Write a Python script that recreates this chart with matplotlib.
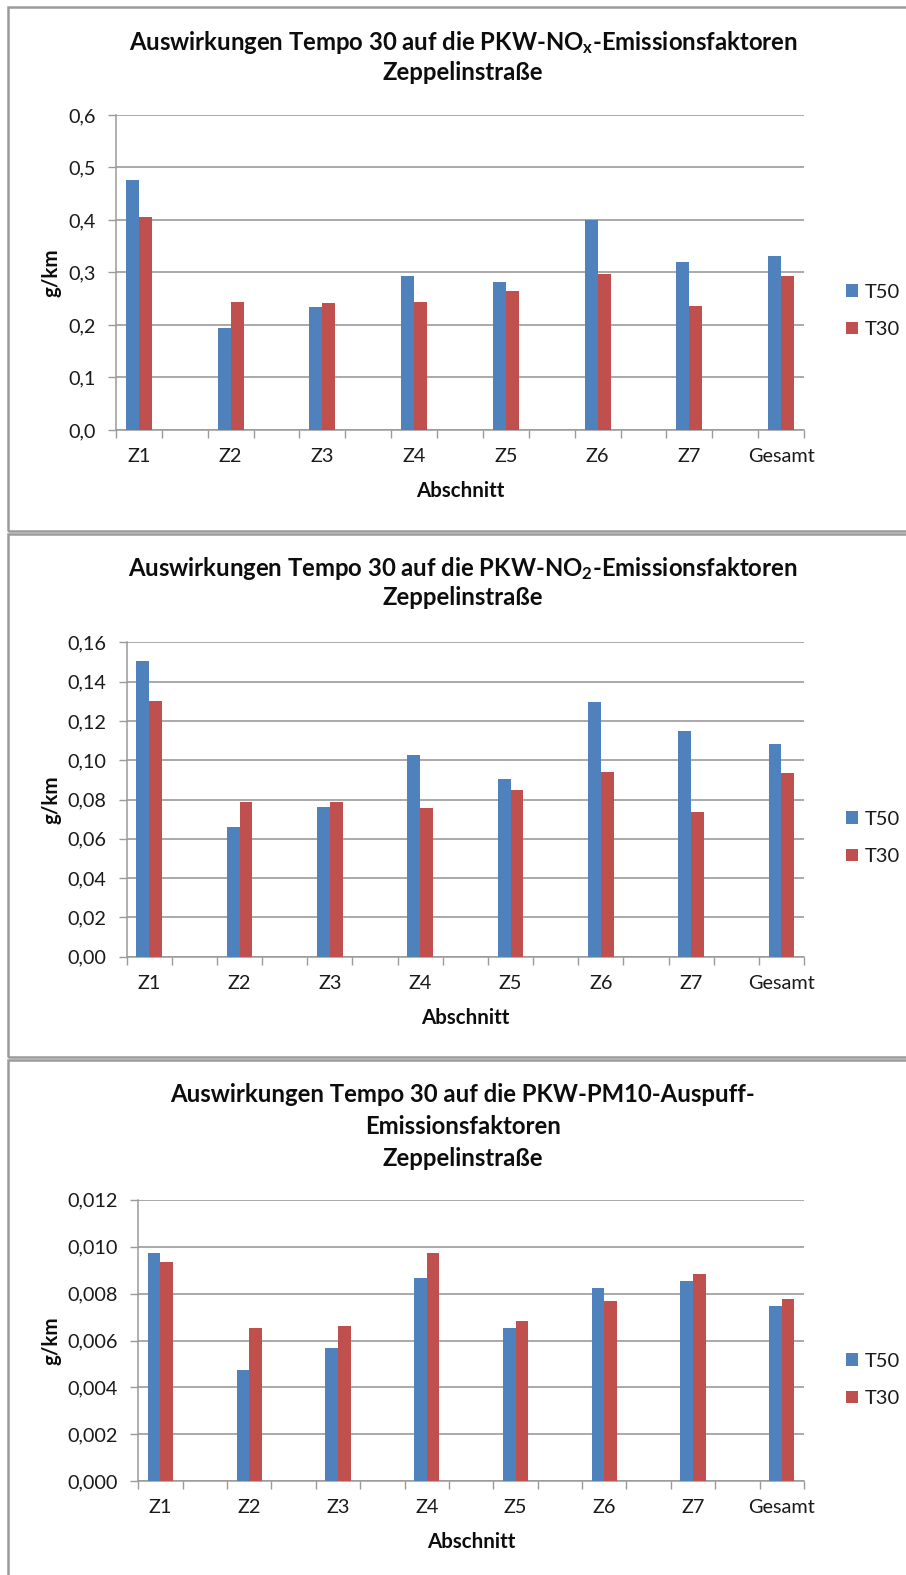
import numpy as np
import matplotlib
matplotlib.use('Agg')
import matplotlib.pyplot as plt
from matplotlib.patches import Rectangle, Patch
from matplotlib.ticker import FuncFormatter, FixedLocator

plt.rcParams['font.family'] = ['Lato', 'DejaVu Sans']
plt.rcParams['mathtext.fontset'] = 'custom'
plt.rcParams['mathtext.rm'] = 'Lato:bold'
plt.rcParams['mathtext.it'] = 'Lato:bold'
plt.rcParams['mathtext.bf'] = 'Lato:bold'

# ---------------- data ----------------
categories = ['Z1', 'Z2', 'Z3', 'Z4', 'Z5', 'Z6', 'Z7', 'Gesamt']
series_names = ['T50', 'T30']

nox_t50 = [0.476, 0.195, 0.235, 0.294, 0.282, 0.400, 0.320, 0.332]
nox_t30 = [0.406, 0.243, 0.241, 0.243, 0.264, 0.297, 0.237, 0.293]

no2_t50 = [0.1507, 0.0659, 0.0763, 0.1028, 0.0902, 0.1295, 0.1149, 0.1083]
no2_t30 = [0.1300, 0.0785, 0.0785, 0.0756, 0.0849, 0.0941, 0.0737, 0.0935]

pm10_t50 = [0.00974, 0.00475, 0.00569, 0.00865, 0.00654, 0.00824, 0.00855, 0.00748]
pm10_t30 = [0.00935, 0.00654, 0.00660, 0.00974, 0.00682, 0.00767, 0.00884, 0.00776]

title_nox = ['Auswirkungen Tempo 30 auf die PKW-NO$_{\\mathrm{x}}$-Emissionsfaktoren',
             'Zeppelinstraße']
title_no2 = ['Auswirkungen Tempo 30 auf die PKW-NO$_{\\mathrm{2}}$-Emissionsfaktoren',
             'Zeppelinstraße']
title_pm10 = ['Auswirkungen Tempo 30 auf die PKW-PM10-Auspuff-',
              'Emissionsfaktoren',
              'Zeppelinstraße']

nox_yticks = [0.0, 0.1, 0.2, 0.3, 0.4, 0.5, 0.6]
no2_yticks = [0.00, 0.02, 0.04, 0.06, 0.08, 0.10, 0.12, 0.14, 0.16]
pm10_yticks = [0.000, 0.002, 0.004, 0.006, 0.008, 0.010, 0.012]

y_label = 'g/km'
x_label = 'Abschnitt'

colors = ['#4F81BD', '#C0504D']
grid_col = '#a3a3a3'
border_col = '#9a9a9a'

# ---------------- layout (pixels) ----------------
W, H = 906, 1575
fig = plt.figure(figsize=(W / 100, H / 100), dpi=100)
fig.patch.set_facecolor('white')

def fx(px):
    return px / W

def fy(py):
    return 1 - py / H

panels = [
    dict(t50=nox_t50, t30=nox_t30, title=title_nox, yticks=nox_yticks, dec=1,
         left=116, right=804, top=115, bottom=430,
         title_y=[43, 72.5], legend_y=311, box=(8, 7, 531)),
    dict(t50=no2_t50, t30=no2_t30, title=title_no2, yticks=no2_yticks, dec=2,
         left=126.7, right=804, top=642.3, bottom=956.7,
         title_y=[568, 598], legend_y=838, box=(8, 534, 1057)),
    dict(t50=pm10_t50, t30=pm10_t30, title=title_pm10, yticks=pm10_yticks, dec=3,
         left=138.3, right=804, top=1199.7, bottom=1481.3,
         title_y=[1094, 1126, 1158], legend_y=1380, box=(8, 1060, 1600)),
]

n = len(categories)
slot_pos = np.arange(n) * 2          # every category followed by an empty slot
bar_w = 0.285

for p in panels:
    # panel border
    x0, ytop, ybot = p['box']
    fig.add_artist(Rectangle((fx(x0), fy(ybot)), fx(W + 40) - fx(x0), fy(ytop) - fy(ybot),
                             transform=fig.transFigure, fill=False,
                             edgecolor=border_col, linewidth=1.8, clip_on=False))

    ax = fig.add_axes([fx(p['left']), fy(p['bottom']),
                       fx(p['right']) - fx(p['left']), fy(p['top']) - fy(p['bottom'])])
    ax.set_facecolor('none')
    ax.bar(slot_pos - bar_w / 2, p['t50'], width=bar_w, color=colors[0], zorder=3)
    ax.bar(slot_pos + bar_w / 2, p['t30'], width=bar_w, color=colors[1], zorder=3)

    ax.set_xlim(-0.5, 2 * n - 1.5)
    ax.set_ylim(p['yticks'][0], p['yticks'][-1])
    ax.set_xticks(slot_pos)
    ax.set_xticklabels(categories)
    ax.xaxis.set_minor_locator(FixedLocator(np.arange(-0.5, 2 * n - 1, 1.0)))
    ax.tick_params(axis='x', which='major', length=0, pad=13, labelsize=14.3, colors='#1a1a1a')
    ax.tick_params(axis='x', which='minor', length=5.5, width=1.0, color=border_col, direction='out')
    ax.set_yticks(p['yticks'])
    dec = p['dec']
    ax.yaxis.set_major_formatter(FuncFormatter(lambda v, pos, d=dec: f'{v:.{d}f}'.replace('.', ',')))
    ax.tick_params(axis='y', length=5.8, width=1.0, color=border_col, pad=9, labelsize=14.3,
                   labelcolor='#1a1a1a', direction='out')
    ax.grid(axis='y', color=grid_col, linewidth=1.3, zorder=0)
    ax.set_axisbelow(True)
    for s in ['top', 'right']:
        ax.spines[s].set_visible(False)
    for s in ['left', 'bottom']:
        ax.spines[s].set_color(border_col)
        ax.spines[s].set_linewidth(1.1)

    # title lines
    for line, yy in zip(p['title'], p['title_y']):
        fig.text(fx(463), fy(yy), line, ha='center', va='center', fontsize=17.2,
                 fontweight='bold', color='#0d0d0d')

    # axis labels
    fig.text(fx(51), fy((p['top'] + p['bottom']) / 2), y_label, rotation=90,
             ha='center', va='center', fontsize=14.8, fontweight='bold', color='#0d0d0d')
    fig.text(fx((p['left'] + p['right']) / 2), fy(p['bottom'] + 61), x_label,
             ha='center', va='center', fontsize=14.8, fontweight='bold', color='#0d0d0d')

    # legend
    handles = [Patch(facecolor=c, edgecolor='none') for c in colors]
    ax.legend(handles, series_names, loc='center left',
              bbox_to_anchor=(fx(846), fy(p['legend_y'])), bbox_transform=fig.transFigure,
              frameon=False, fontsize=14.5, handlelength=0.6, handleheight=0.6,
              handletextpad=0.35, labelspacing=1.0, borderpad=0, borderaxespad=0,
              labelcolor='#1a1a1a')

fig.savefig('out.png', dpi=100, facecolor='white')
